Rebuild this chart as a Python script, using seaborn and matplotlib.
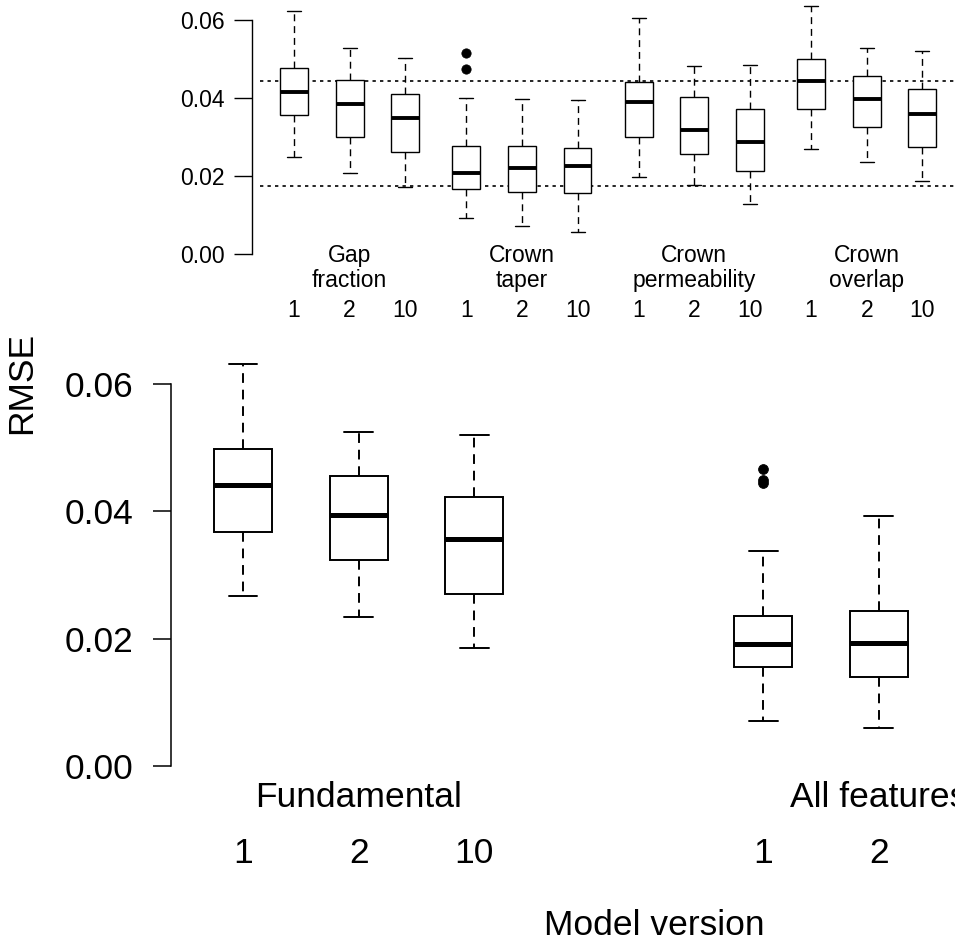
import matplotlib
matplotlib.use("Agg")
import matplotlib.pyplot as plt
import matplotlib.transforms as mtransforms
import seaborn as sns
import pandas as pd
import numpy as np

sns.set_style("ticks", {"axes.edgecolor": "black", "text.color": "black",
                        "xtick.color": "black", "ytick.color": "black",
                        "axes.labelcolor": "black"})
plt.rcParams["font.family"] = ["Liberation Sans", "DejaVu Sans"]

# five-number summaries: lower whisker, Q1, median, Q3, upper whisker
versions = ["1", "2", "10"]

# inset (per feature)
feature_names = ["Gap\nfraction", "Crown\ntaper", "Crown\npermeability", "Crown\noverlap"]
gap_fraction = [[0.0249, 0.0356, 0.0415, 0.0478, 0.0624],
                [0.0207, 0.0299, 0.0385, 0.0446, 0.0527],
                [0.0171, 0.0261, 0.0350, 0.0409, 0.0503]]
crown_taper = [[0.0092, 0.0166, 0.0207, 0.0277, 0.0401],
               [0.0072, 0.0160, 0.0221, 0.0277, 0.0397],
               [0.0056, 0.0157, 0.0226, 0.0273, 0.0395]]
crown_permeability = [[0.0198, 0.0299, 0.0391, 0.0442, 0.0604],
                      [0.0177, 0.0256, 0.0319, 0.0403, 0.0482],
                      [0.0127, 0.0214, 0.0287, 0.0372, 0.0484]]
crown_overlap = [[0.0268, 0.0371, 0.0444, 0.0500, 0.0635],
                 [0.0236, 0.0325, 0.0397, 0.0457, 0.0527],
                 [0.0187, 0.0274, 0.0359, 0.0423, 0.0521]]
crown_taper_v1_outliers = [0.0515, 0.0474]
ref_lines = [0.0444, 0.0175]

# main panel
main_names = ["Fundamental", "All features"]
fundamental = [[0.0267, 0.0368, 0.0442, 0.0498, 0.0632],
               [0.0234, 0.0323, 0.0395, 0.0455, 0.0525],
               [0.0186, 0.0271, 0.0357, 0.0422, 0.0520]]
all_features = [[0.0071, 0.0155, 0.0192, 0.0235, 0.0338],
                [0.0059, 0.0140, 0.0194, 0.0244, 0.0392]]
all_features_v1_outliers = [0.0466, 0.0449, 0.0445]


def long_table(groups, step):
    rows = []
    for g, boxes in enumerate(groups):
        for v, vals in enumerate(boxes):
            for val in vals:
                rows.append({"pos": g * step + v + 1, "rmse": val})
    return pd.DataFrame(rows)


W, H = 955, 942
fig = plt.figure(figsize=(W / 100, H / 100), dpi=100)


def fy(px):
    return 1 - px / H


def draw_boxes(ax, df, lw, mlw, dash):
    sns.boxplot(data=df, x="pos", y="rmse", native_scale=True, whis=(0, 100),
                width=0.5, color="white", linecolor="black", linewidth=lw,
                showfliers=False, ax=ax,
                whiskerprops={"linestyle": dash},
                capprops={"linestyle": "-"},
                medianprops={"linewidth": mlw})
    ax.set_xlabel("")
    ax.set_ylabel("")
    ax.set_xticks([])


# ---------------- main panel ----------------
ax = fig.add_axes([171 / W, fy(781.9), 966 / W, (781.9 - 349.1) / H])
main_df = long_table([fundamental, all_features], 4.5)
draw_boxes(ax, main_df, 1.4, 3.6, (0, (5, 3.5)))
sns.scatterplot(x=[5.5] * len(all_features_v1_outliers), y=all_features_v1_outliers,
                color="black", edgecolor="black", s=50, ax=ax, zorder=5)
ax.set_xlim(0.377, 8.733)
ax.set_ylim(-0.0025, 0.0655)
sns.despine(ax=ax, bottom=True)
ax.spines["left"].set_bounds(0, 0.06)
ax.spines["left"].set_linewidth(1.1)
ax.set_yticks([0, 0.02, 0.04, 0.06])
ax.set_yticklabels(["0.00", "0.02", "0.04", "0.06"])
ax.tick_params(axis="y", length=13, width=1.1, pad=14, labelsize=25.5)

tr = mtransforms.blended_transform_factory(ax.transData, fig.transFigure)
for g, (name, boxes) in enumerate(zip(main_names, [fundamental, all_features])):
    ax.text(g * 4.5 + 2, fy(807.3), name, transform=tr, ha="center", va="baseline",
            fontsize=25.5)
    for v in range(len(boxes)):
        ax.text(g * 4.5 + v + 1, fy(863.3), versions[v], transform=tr, ha="center",
                va="baseline", fontsize=25.5)
fig.text(654 / W, fy(935), "Model version", ha="center", va="baseline", fontsize=25.5)
fig.text(22 / W, fy(383), "RMSE", ha="center", va="center", rotation=90, fontsize=25.5)

# ---------------- inset panel ----------------
ins = fig.add_axes([260 / W, fy(261.8), 740 / W, 261.3 / H])
ins_groups = [gap_fraction, crown_taper, crown_permeability, crown_overlap]
ins_df = long_table(ins_groups, 3.1)
for yv in ref_lines:
    ins.axhline(yv, color="black", lw=1.2, ls=(0, (2, 2.5)), zorder=0)
draw_boxes(ins, ins_df, 1.0, 2.8, (0, (5, 3.5)))
sns.scatterplot(x=[3.1 + 1] * len(crown_taper_v1_outliers), y=crown_taper_v1_outliers,
                color="black", edgecolor="black", s=45, ax=ins, zorder=5)
ins.set_xlim(0.388, 13.697)
ins.set_ylim(-0.002, 0.065)
sns.despine(ax=ins, bottom=True)
ins.spines["left"].set_position(("outward", 6))
ins.spines["left"].set_bounds(0, 0.06)
ins.spines["left"].set_linewidth(1.0)
ins.set_yticks([0, 0.02, 0.04, 0.06])
ins.set_yticklabels(["0.00", "0.02", "0.04", "0.06"])
ins.tick_params(axis="y", length=13, width=1.0, pad=6.5, labelsize=16.5)
ins.patch.set_alpha(0)

tr2 = mtransforms.blended_transform_factory(ins.transData, fig.transFigure)
for g, name in enumerate(feature_names):
    mid = g * 3.1 + 2
    for k, line in enumerate(name.split("\n")):
        ins.text(mid, fy(261.7 + 25 * k), line, transform=tr2, ha="center",
                 va="baseline", fontsize=16.5)
    for v in range(3):
        ins.text(g * 3.1 + v + 1, fy(317.3), versions[v], transform=tr2, ha="center",
                 va="baseline", fontsize=16.5)

fig.savefig("out.png", dpi=100)
